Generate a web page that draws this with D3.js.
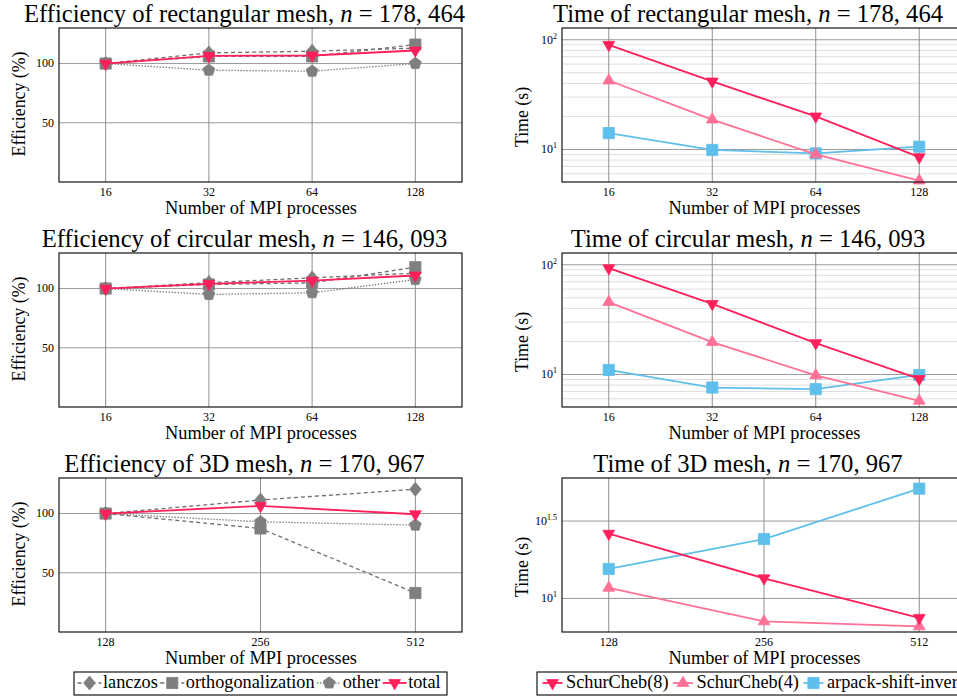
<!DOCTYPE html>
<html>
<head>
<meta charset="utf-8">
<script src="https://cdn.jsdelivr.net/npm/d3@7"></script>
<style>
  body { margin: 0; background: #fff; }
  text { font-family: "Liberation Serif", "Times New Roman", Tinos, Times, "DejaVu Serif", "Noto Serif", serif; fill: #000; }
</style>
</head>
<body>
<svg id="chart" width="957" height="698"></svg>
<script>
// MPI process counts
var procs = [16, 32, 64, 128];
var procs3d = [128, 256, 512];

// efficiency (%), rectangular mesh
var rectLanczos = [100, 109, 110.4, 113];
var rectOrtho = [100, 106, 106, 116];
var rectOther = [100, 94.4, 93.5, 100];
var rectTotal = [100, 106.5, 106.8, 111];

// efficiency (%), circular mesh
var circLanczos = [100, 105, 109, 113];
var circOrtho = [100, 103.4, 104.8, 118];
var circOther = [100, 95, 96.4, 107.6];
var circTotal = [100, 104, 106.7, 111];

// efficiency (%), 3D mesh
var cubeLanczos = [100, 111.4, 120.5];
var cubeOrtho = [100, 87.4, 32.9];
var cubeOther = [100, 93, 90.2];
var cubeTotal = [100, 106.4, 99.4];

// time (s)
var rectCheb8 = [90, 41.7, 20, 8.5];
var rectCheb4 = [42.5, 18.7, 9.0, 5.2];
var rectArpack = [14.1, 9.9, 9.2, 10.6];
var circCheb8 = [93, 44, 19.3, 9.1];
var circCheb4 = [45.7, 19.7, 9.8, 5.75];
var circArpack = [11.0, 7.6, 7.35, 9.9];
var cubeCheb8 = [26.2, 13.5, 7.5];
var cubeCheb4 = [11.7, 7.1, 6.6];
var cubeArpack = [15.5, 24.2, 51.2];

// tick values / labels
var effTicks = [50, 100];
var timeTicks = [10, 100];
var timeTickExp = ['1', '2'];
var cubeTimeTicks = [10, Math.pow(10, 1.5)];
var cubeTimeTickExp = ['1', '1.5'];

var effNames = ['lanczos', 'orthogonalization', 'other', 'total'];
var timeNames = ['SchurCheb(8)', 'SchurCheb(4)', 'arpack-shift-invert'];

var red = '#ff1f5b', pink = '#ff7096', blue = '#5ebfea', grey = '#7f7f7f';

var svg = d3.select('#chart');
svg.append('rect').attr('width', 957).attr('height', 698).attr('fill', '#fff');

// marker shapes
function markerPath(kind) {
  var r = 6.8, s = 5.6, p = [];
  if (kind == 'down') return 'M0,' + r + 'L' + (r * 0.866) + ',' + (-r / 2) + 'L' + (-r * 0.866) + ',' + (-r / 2) + 'Z';
  if (kind == 'up') return 'M0,' + (-r) + 'L' + (r * 0.866) + ',' + (r / 2) + 'L' + (-r * 0.866) + ',' + (r / 2) + 'Z';
  if (kind == 'square') return 'M' + (-s) + ',' + (-s) + 'h' + (2 * s) + 'v' + (2 * s) + 'h' + (-2 * s) + 'Z';
  if (kind == 'diamond') return 'M0,-7L5.8,0L0,7L-5.8,0Z';
  for (var i = 0; i < 5; i++) {
    var a = -Math.PI / 2 + i * 2 * Math.PI / 5;
    p.push([6.2 * Math.cos(a), 6.2 * Math.sin(a)]);
  }
  return 'M' + p.join('L') + 'Z';
}

var effStyle = [
  { color: grey, line: '#6e6e6e', dash: '4,3', marker: 'diamond', width: 1.3 },
  { color: grey, line: '#6e6e6e', dash: '4,3', marker: 'square', width: 1.3 },
  { color: grey, line: '#6e6e6e', dash: '1.3,1.7', marker: 'pentagon', width: 1.3 },
  { color: red, line: red, dash: null, marker: 'down', width: 1.8 }
];
var timeStyle = [
  { color: red, line: red, dash: null, marker: 'down', width: 1.8 },
  { color: pink, line: pink, dash: null, marker: 'up', width: 1.8 },
  { color: blue, line: blue, dash: null, marker: 'square', width: 1.8 }
];

var fitText = [];

function panel(cfg) {
  var g = svg.append('g');
  var x0 = cfg.x0, y0 = cfg.y0, w = cfg.w, h = 154;
  var pad = cfg.xs.length == 4 ? 0.452 : 0.301;
  var x = d3.scaleLog().base(2)
    .domain([cfg.xs[0] / Math.pow(2, pad), cfg.xs[cfg.xs.length - 1] * Math.pow(2, pad)])
    .range([x0, x0 + w]);
  var y = cfg.y.range([y0 + h, y0]);

  // minor grid for log axes
  if (cfg.minor) {
    var minor = [];
    [1, 10, 100].forEach(function(d) {
      for (var m = 2; m < 10; m++) {
        var v = m * d;
        if (v > y.domain()[0] && v < y.domain()[1]) minor.push(v);
      }
    });
    g.selectAll('.minor').data(minor).enter().append('line')
      .attr('x1', x0).attr('x2', x0 + w)
      .attr('y1', function(d) { return y(d); }).attr('y2', function(d) { return y(d); })
      .attr('stroke', '#dedede').attr('stroke-width', 1);
  }
  // major grid
  g.selectAll('.gy').data(cfg.yTicks).enter().append('line')
    .attr('x1', x0).attr('x2', x0 + w)
    .attr('y1', function(d) { return y(d); }).attr('y2', function(d) { return y(d); })
    .attr('stroke', '#9a9a9a').attr('stroke-width', 1);
  g.selectAll('.gx').data(cfg.xs).enter().append('line')
    .attr('y1', y0).attr('y2', y0 + h)
    .attr('x1', function(d) { return x(d); }).attr('x2', function(d) { return x(d); })
    .attr('stroke', '#8f8f8f').attr('stroke-width', 1);

  // tick labels
  g.selectAll('.tx').data(cfg.xs).enter().append('text')
    .attr('x', function(d) { return x(d); }).attr('y', y0 + h + 13.5)
    .attr('text-anchor', 'middle').attr('font-size', 12)
    .text(function(d) { return d; });
  var yl = g.selectAll('.ty').data(cfg.yTicks).enter().append('text')
    .attr('x', x0 - 5).attr('y', function(d) { return y(d) + 3.8; })
    .attr('text-anchor', 'end').attr('font-size', 12);
  if (cfg.yExp) {
    yl.append('tspan').text('10');
    yl.append('tspan').attr('dy', -5).attr('font-size', 8)
      .text(function(d, i) { return cfg.yExp[i]; });
  } else {
    yl.text(function(d) { return d; });
  }

  // series
  var line = d3.line().x(function(d, i) { return x(cfg.xs[i]); }).y(function(d) { return y(d); });
  var order = cfg.series.map(function(s, i) { return i; });
  if (cfg.reverse) order.reverse();
  order.forEach(function(i) {
    var st = cfg.styles[i];
    g.append('path').datum(cfg.series[i]).attr('d', line)
      .attr('fill', 'none').attr('stroke', st.line).attr('stroke-width', st.width)
      .attr('stroke-dasharray', st.dash);
    g.selectAll(null).data(cfg.series[i]).enter().append('path')
      .attr('d', markerPath(st.marker))
      .attr('transform', function(d, j) { return 'translate(' + x(cfg.xs[j]) + ',' + y(d) + ')'; })
      .attr('fill', st.color).attr('stroke', st.color).attr('stroke-width', 0.8);
  });

  // frame
  g.append('rect').attr('x', x0).attr('y', y0).attr('width', w).attr('height', h)
    .attr('fill', 'none').attr('stroke', '#000').attr('stroke-width', 1.1);

  // title
  var t = g.append('text').attr('x', x0 + w / 2 - 16).attr('y', y0 - 6)
    .attr('text-anchor', 'middle').attr('font-size', 21);
  t.append('tspan').text(cfg.title + ', ');
  t.append('tspan').attr('font-style', 'italic').text('n');
  t.append('tspan').text(' = ' + cfg.n);
  fitText.push({ sel: t, group: 'title', target: cfg.titleW });

  var xl = g.append('text').attr('x', x0 + w / 2 + 0.5).attr('y', y0 + h + 31.5)
    .attr('text-anchor', 'middle').attr('font-size', 16).text('Number of MPI processes');
  fitText.push({ sel: xl, group: 'xlabel', target: 192 });

  var ylab = g.append('text')
    .attr('transform', 'translate(' + cfg.ylx + ',' + (y0 + h / 2 + cfg.yldy) + ') rotate(-90)')
    .attr('text-anchor', 'middle').attr('font-size', 16).text(cfg.ylabel);
  fitText.push({ sel: ylab, group: 'ylabel', target: cfg.ylabel == 'Efficiency (%)' ? 105 : null });
}

var L = 59, R = 562, WL = 403, WR = 404, rows = [28, 253, 478];
function effY() { return d3.scaleLinear().domain([0, 130]); }

panel({ x0: L, y0: rows[0], w: WL, xs: procs, y: effY(), yTicks: effTicks,
  series: [rectLanczos, rectOrtho, rectOther, rectTotal], styles: effStyle,
  title: 'Efficiency of rectangular mesh', n: '178, 464', titleW: 438,
  ylabel: 'Efficiency (%)', ylx: 25, yldy: -1 });
panel({ x0: R, y0: rows[0], w: WR, xs: procs, y: d3.scaleLog().domain([5.05, 128]), yTicks: timeTicks,
  yExp: timeTickExp, minor: true, reverse: true,
  series: [rectCheb8, rectCheb4, rectArpack], styles: timeStyle,
  title: 'Time of rectangular mesh', n: '178, 464', titleW: 396,
  ylabel: 'Time (s)', ylx: 528, yldy: 12 });
panel({ x0: L, y0: rows[1], w: WL, xs: procs, y: effY(), yTicks: effTicks,
  series: [circLanczos, circOrtho, circOther, circTotal], styles: effStyle,
  title: 'Efficiency of circular mesh', n: '146, 093', titleW: 402,
  ylabel: 'Efficiency (%)', ylx: 25, yldy: -1 });
panel({ x0: R, y0: rows[1], w: WR, xs: procs, y: d3.scaleLog().domain([5.05, 128]), yTicks: timeTicks,
  yExp: timeTickExp, minor: true, reverse: true,
  series: [circCheb8, circCheb4, circArpack], styles: timeStyle,
  title: 'Time of circular mesh', n: '146, 093', titleW: 357,
  ylabel: 'Time (s)', ylx: 528, yldy: 12 });
panel({ x0: L, y0: rows[2], w: WL, xs: procs3d, y: effY(), yTicks: effTicks,
  series: [cubeLanczos, cubeOrtho, cubeOther, cubeTotal], styles: effStyle,
  title: 'Efficiency of 3D mesh', n: '170, 967', titleW: 356,
  ylabel: 'Efficiency (%)', ylx: 25, yldy: -1 });
panel({ x0: R, y0: rows[2], w: WR, xs: procs3d, y: d3.scaleLog().domain([6.07, 60]), yTicks: cubeTimeTicks,
  yExp: cubeTimeTickExp, reverse: true,
  series: [cubeCheb8, cubeCheb4, cubeArpack], styles: timeStyle,
  title: 'Time of 3D mesh', n: '170, 967', titleW: 312,
  ylabel: 'Time (s)', ylx: 528, yldy: 12 });

// legends
function legend(names, styles, boxX, boxW, half) {
  var g = svg.append('g');
  g.append('rect').attr('x', boxX).attr('y', 672).attr('width', boxW).attr('height', 23)
    .attr('fill', '#fff').attr('stroke', '#000').attr('stroke-width', 1.1);
  var items = names.map(function(n, i) {
    var it = g.append('g');
    it.append('line').attr('y1', 683).attr('y2', 683).attr('x1', -half).attr('x2', half)
      .attr('stroke', styles[i].line).attr('stroke-width', styles[i].width)
      .attr('stroke-dasharray', styles[i].dash);
    it.append('path').attr('d', markerPath(styles[i].marker)).attr('transform', 'translate(0,683)')
      .attr('fill', styles[i].color).attr('stroke', styles[i].color).attr('stroke-width', 0.8);
    var t = it.append('text').attr('x', 13.5).attr('y', 687.5).attr('font-size', 15).text(n);
    fitText.push({ sel: t, group: 'legend', target: n == 'orthogonalization' ? 129 : null });
    return { g: it, t: t };
  });
  return { x: boxX, items: items };
}
var legs = [legend(effNames, effStyle, 74, 373, 12), legend(timeNames, timeStyle, 537, 500, 10)];

// scale fonts so text widths match the reference
['title', 'xlabel', 'ylabel', 'legend'].forEach(function(grp) {
  var list = fitText.filter(function(f) { return f.group == grp; });
  var factor = null;
  list.forEach(function(f) {
    if (f.target && factor === null) {
      factor = f.target / f.sel.node().getComputedTextLength();
    }
  });
  if (grp == 'title') {
    var fs = list.map(function(f) { return f.target / f.sel.node().getComputedTextLength(); });
    factor = d3.mean(fs);
  }
  list.forEach(function(f) {
    f.sel.attr('font-size', parseFloat(f.sel.attr('font-size')) * factor);
  });
});

// lay legend entries out left to right
legs.forEach(function(l) {
  var pos = l.x + 15.5;
  l.items.forEach(function(it) {
    it.g.attr('transform', 'translate(' + pos + ',0)');
    pos += 13.5 + it.t.node().getComputedTextLength() + 14.5;
  });
});
</script>
</body>
</html>
